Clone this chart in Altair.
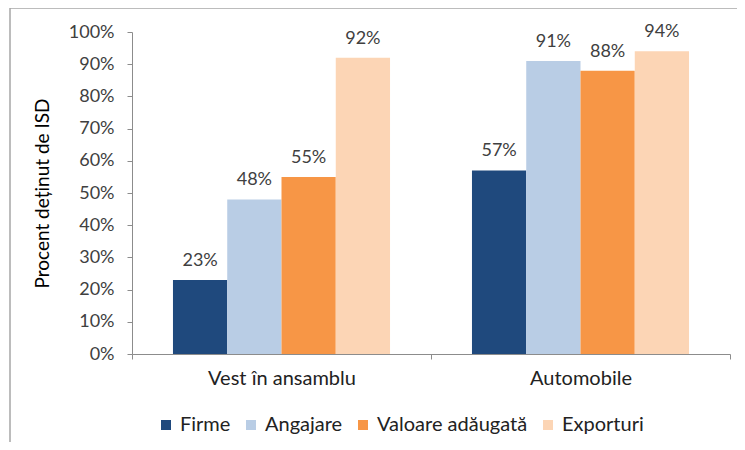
import altair as alt
import pandas as pd

categories = ["Vest în ansamblu", "Automobile"]
series = ["Firme", "Angajare", "Valoare adăugată", "Exporturi"]
values = {
    "Vest în ansamblu": [0.23, 0.48, 0.55, 0.92],
    "Automobile": [0.57, 0.91, 0.88, 0.94],
}
colors = ["#1F497D", "#B9CDE5", "#F79646", "#FCD5B5"]
y_ticks = [i / 10 for i in range(11)]

rows = []
for c in categories:
    for s, v in zip(series, values[c]):
        rows.append({"cat": c, "ser": s, "val": v})
df = pd.DataFrame(rows)

FONT = "Lato"

x = alt.X("cat:N", sort=categories, title=None,
          scale=alt.Scale(paddingInner=0, paddingOuter=0),
          axis=alt.Axis(labelAngle=0, labelFontSize=20, labelColor="#222222",
                        labelFont=FONT, tickBand="extent", tickSize=5,
                        domainColor="#8C8C8C", tickColor="#8C8C8C",
                        labelPadding=9))
xo = alt.XOffset("ser:N", sort=series,
                 scale=alt.Scale(paddingOuter=0.755, paddingInner=0))
y = alt.Y("val:Q", title="Procent deținut de ISD",
          scale=alt.Scale(domain=[0, 1]),
          axis=alt.Axis(values=y_ticks, format=".0%", grid=False,
                        labelFontSize=18, labelColor="#404040", labelFont=FONT,
                        titleFont=FONT, titleFontSize=19, titleFontWeight="normal",
                        titleColor="#000000", titlePadding=16,
                        domainColor="#8C8C8C", tickColor="#8C8C8C",
                        tickSize=5, labelPadding=13))
color = alt.Color("ser:N", sort=series,
                  scale=alt.Scale(domain=series, range=colors),
                  legend=alt.Legend(title=None, orient="none", direction="horizontal",
                                    legendX=24, legendY=383,
                                    symbolType="square", symbolSize=100,
                                    symbolStrokeWidth=0,
                                    labelFontSize=20, labelFont=FONT,
                                    labelColor="#222222", columnPadding=10,
                                    symbolOffset=0, labelOffset=4,
                                    labelLimit=300))

base = alt.Chart(df).encode(x=x, xOffset=xo, y=y)
bars = base.mark_bar().encode(color=color)
labels = base.mark_text(baseline="bottom", dy=-10, fontSize=18, font=FONT,
                        color="#404040").encode(text=alt.Text("val:Q", format=".0%"))

border_df = pd.DataFrame({"k": [0]})
left_border = alt.Chart(border_df).mark_rule(color="#A6A6A6", strokeWidth=1.5).encode(
    x=alt.value(-122), y=alt.value(-24), y2=alt.value(420))
top_border = alt.Chart(border_df).mark_rule(color="#A6A6A6", strokeWidth=1.5).encode(
    x=alt.value(-122), x2=alt.value(620), y=alt.value(-24))

chart = alt.layer(bars, labels, left_border, top_border).properties(
    width=598, height=322,
    autosize=alt.AutoSizeParams(type="none"),
    padding={"left": 124, "top": 24, "right": 7, "bottom": 88},
).configure_view(stroke=None)

chart.save("out.html", embed_options={"renderer": "svg", "actions": False})
